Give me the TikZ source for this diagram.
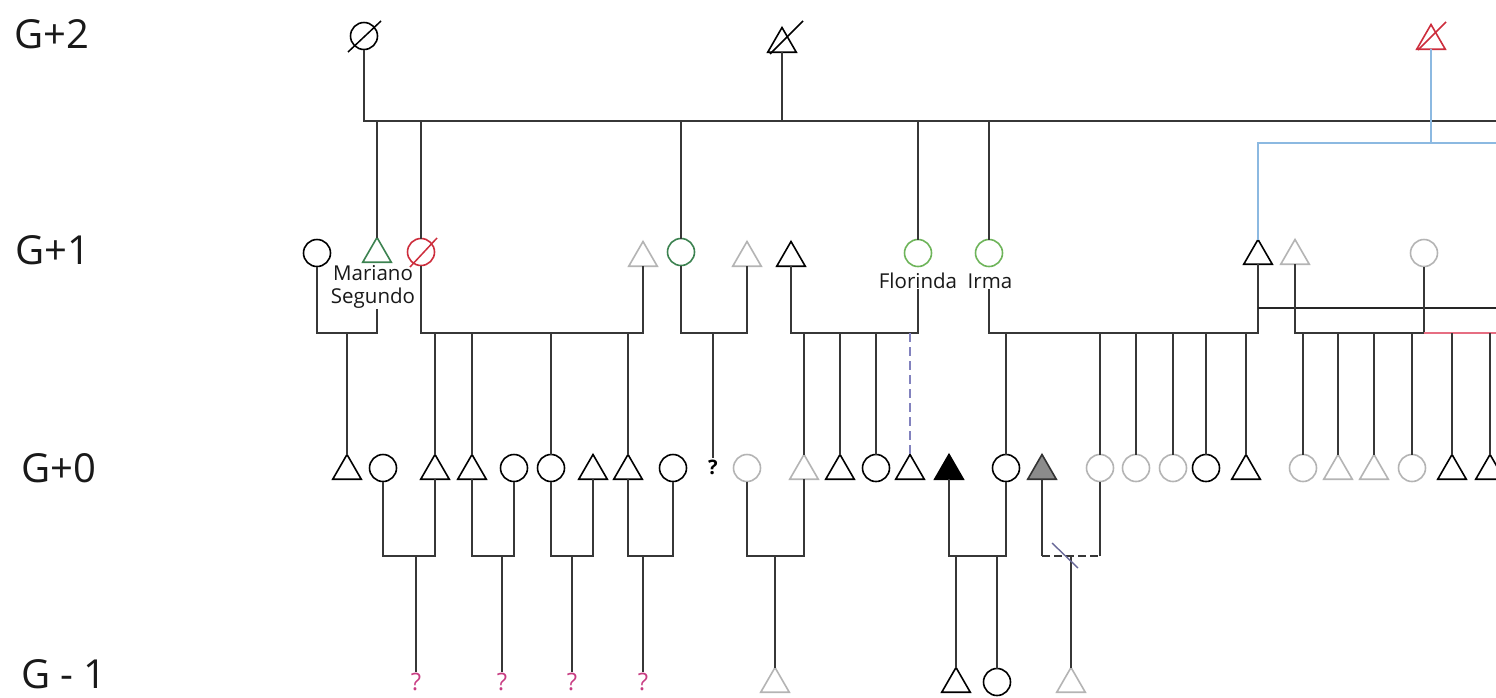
\documentclass[tikz,border=0pt]{standalone}
\usepackage{fontspec}
\setmainfont{Open Sans}
\usetikzlibrary{shapes.geometric,calc}

\definecolor{lk}{RGB}{55,55,55}
\definecolor{sg}{RGB}{180,180,180}
\definecolor{grn}{RGB}{110,180,90}
\definecolor{grn2}{RGB}{60,130,80}
\definecolor{dred}{RGB}{205,45,60}
\definecolor{blu}{RGB}{140,185,225}
\definecolor{qpink}{RGB}{200,60,130}
\definecolor{dsh}{RGB}{130,130,190}
\definecolor{redl}{RGB}{230,110,130}
\definecolor{fgray}{RGB}{140,140,140}

\tikzset{
  lnk/.style={draw=lk, line width=1.6pt},
  fem/.style={circle, draw=black, line width=1.6pt, minimum size=27pt, inner sep=0pt, outer sep=0pt},
  mal/.style={regular polygon, regular polygon sides=3, draw=black, line width=1.6pt, minimum size=33pt, inner sep=0pt, outer sep=0pt},
  gen/.style={font=\fontsize{40}{44}\selectfont, anchor=base west, inner sep=0pt, text=black!90},
  nm/.style={font=\fontsize{20.5}{23}\selectfont, anchor=base, inner sep=1pt, text=black!90},
  qk/.style={font=\fontsize{24}{26}\selectfont, inner sep=1pt, text=qpink},
  slash/.style={line width=1.5pt},
}

\begin{document}
\begin{tikzpicture}[x=1pt, y=-1pt]
\useasboundingbox (0,0) rectangle (1496,697);
\fill[white] (0,0) rectangle (1496,697);

% generation labels
\node[gen] (lg2) at (14,48) {G+2};
\node[gen] (lg1) at (15,264) {G+1};
\node[gen] (lg0) at (21,482) {G+0};
\node[gen] (lgm) at (21,688) {G - 1};

% level rails
\coordinate (sR) at (1496,121);
\coordinate (bR) at (1496,143);
\coordinate (eR) at (1496,308);
\coordinate (rR) at (1496,333);
\coordinate (h1) at (0,333);
\coordinate (h2) at (0,556);

% ---------- G+2 ----------
\node[fem] (gA) at (364,36) {};
\node[mal] (gB) at (782,44) {};
\node[mal, draw=dred] (gC) at (1431,41) {};
\draw[slash] ($(gA)+(-16,16)$) -- ($(gA)+(17,-15)$);
\draw[slash] ($(gB)+(-12,10)$) -- ($(gB)+(21,-23)$);
\draw[slash, draw=dred] ($(gC)+(-13,9)$) -- ($(gC)+(15,-19)$);

\draw[lnk] (gA.south) |- (sR);
\draw[lnk] (gB.south) -- (gB.south |- sR);
\draw[draw=blu, line width=1.3pt] (gC.south) -- (gC.south |- bR);

% ---------- G+1 ----------
\node[fem] (f1) at (317,253) {};
\node[mal, draw=grn2] (mar) at (377,254) {};
\node[fem, draw=dred] (f3) at (421,252) {};
\node[mal, draw=sg] (f4) at (643,258) {};
\node[fem, draw=grn2] (f5) at (681,252) {};
\node[mal, draw=sg] (f6) at (747,258) {};
\node[mal] (f7) at (791,258) {};
\node[fem, draw=grn] (flo) at (918,253) {};
\node[fem, draw=grn] (irm) at (989,253) {};
\node[mal] (f10) at (1258,256) {};
\node[mal, draw=sg] (f11) at (1295,256) {};
\node[fem, draw=sg] (f12) at (1424,253) {};
\draw[slash, draw=dred] ($(f3)+(-11,15)$) -- ($(f3)+(16,-14)$);

\node[nm] (lmar) at (373,280) {Mariano};
\node[nm] (lseg) at (373,303) {Segundo};
\node[nm] (lflo) at (918,288) {Florinda};
\node[nm] (lirm) at (990,288) {Irma};

% descent from the G+2 rail
\foreach \n in {mar,f3,f5,flo,irm}
  \draw[lnk] (\n.north |- sR) -- (\n.north);
\draw[draw=blu, line width=1.3pt] (bR) -| (f10.north);

% ---------- G+0 ----------
\node[mal] (m1) at (347,471) {};
\node[fem] (m2) at (383,468) {};
\node[mal] (m3) at (435,471) {};
\node[mal] (m4) at (472,471) {};
\node[fem] (m5) at (514,468) {};
\node[fem] (m6) at (551,468) {};
\node[mal] (m7) at (593,471) {};
\node[mal] (m8) at (628,471) {};
\node[fem] (m9) at (673,468) {};
\node[font=\fontsize{20}{22}\selectfont\bfseries, inner sep=1pt] (qm) at (713,467) {?};
\node[fem, draw=sg] (m10) at (747,468) {};
\node[mal, draw=sg] (m11) at (804,471) {};
\node[mal] (m12) at (840,471) {};
\node[fem] (m13) at (876,468) {};
\node[mal] (m14) at (910,471) {};
\node[mal, fill=black] (m15) at (949,471) {};
\node[fem] (m16) at (1006,468) {};
\node[mal, fill=fgray, draw=black!80] (m17) at (1042,471) {};
\node[fem, draw=sg] (m18) at (1100,468) {};
\node[fem, draw=sg] (m19) at (1136,468) {};
\node[fem, draw=sg] (m20) at (1173,468) {};
\node[fem] (m21) at (1206,468) {};
\node[mal] (m22) at (1246,471) {};
\node[fem, draw=sg] (m23) at (1303,468) {};
\node[mal, draw=sg] (m24) at (1338,471) {};
\node[mal, draw=sg] (m25) at (1374,471) {};
\node[fem, draw=sg] (m26) at (1412,468) {};
\node[mal] (m27) at (1452,471) {};
\node[mal] (m28) at (1490,471) {};

% G+1 unions and their children
\draw[lnk] (f1.south) |- (mar |- h1) -- (mar |- lseg.south);
\draw[lnk] (m1.north |- h1) -- (m1.north);

\draw[lnk] (f3.south) |- (f4.south |- h1) -- (f4.south);
\foreach \n in {m3,m4,m6,m8}
  \draw[lnk] (\n.north |- h1) -- (\n.north);

\draw[lnk] (f5.south) |- (f6.south |- h1) -- (f6.south);
\draw[lnk] (qm.north |- h1) -- (qm.north);

\draw[lnk] (f7.south) |- (flo |- h1) -- (flo |- lflo.south);
\foreach \n in {m11,m12,m13}
  \draw[lnk] (\n.north |- h1) -- (\n.north);
\draw[draw=dsh, line width=1.4pt, dash pattern=on 9pt off 5pt] (m14.north |- h1) -- (m14.north);

\draw[lnk] (irm |- lirm.south) |- (f10.south |- h1) -- (f10.south);
\foreach \n in {m16,m18,m19,m20,m21,m22}
  \draw[lnk] (\n.north |- h1) -- (\n.north);
\draw[draw=black!85, line width=1.6pt] (f10.south |- eR) -- (eR);

\draw[lnk] (f11.south) |- (f12 |- h1) -- (f12.south);
\foreach \n in {m23,m24,m25,m26}
  \draw[lnk] (\n.north |- h1) -- (\n.north);
\draw[draw=redl, line width=1.6pt] (f12 |- h1) -- (rR);
\foreach \n in {m27,m28}
  \draw[lnk] (\n.north |- rR) -- (\n.north);

% ---------- G-1 ----------
\node[qk] (k1) at (416,682) {?};
\node[qk] (k2) at (502,682) {?};
\node[qk] (k3) at (572,682) {?};
\node[qk] (k4) at (643,682) {?};
\node[mal, draw=sg] (n1) at (775,684) {};
\node[mal] (n2) at (956,684) {};
\node[fem] (n3) at (997,682) {};
\node[mal, draw=sg] (n4) at (1071,684) {};

% G+0 unions and their children
\draw[lnk] (m2.south) |- (m3.south |- h2) -- (m3.south);
\draw[lnk] (k1.north |- h2) -- (k1.north);
\draw[lnk] (m4.south) |- (m5.south |- h2) -- (m5.south);
\draw[lnk] (k2.north |- h2) -- (k2.north);
\draw[lnk] (m6.south) |- (m7.south |- h2) -- (m7.south);
\draw[lnk] (k3.north |- h2) -- (k3.north);
\draw[lnk] (m8.south) |- (m9.south |- h2) -- (m9.south);
\draw[lnk] (k4.north |- h2) -- (k4.north);

\draw[lnk] (m10.south) |- (m11.south |- h2) -- (m11.south);
\draw[lnk] (n1.north |- h2) -- (n1.north);

\draw[lnk] (m15.south) |- (m16.south |- h2) -- (m16.south);
\draw[lnk] (n2.north |- h2) -- (n2.north);
\draw[lnk] (n3.north |- h2) -- (n3.north);

\draw[lnk] (m17.south) -- (m17.south |- h2);
\draw[lnk, dash pattern=on 8pt off 4pt] (m17.south |- h2) -- (m18.south |- h2);
\draw[lnk] (m18.south |- h2) -- (m18.south);
\draw[lnk] (n4.north |- h2) -- (n4.north);
\draw[draw=dsh!80!black, line width=1.4pt] ($(n4.north |- h2)+(-19,-13)$) -- ($(n4.north |- h2)+(7,12)$);
\end{tikzpicture}
\end{document}
